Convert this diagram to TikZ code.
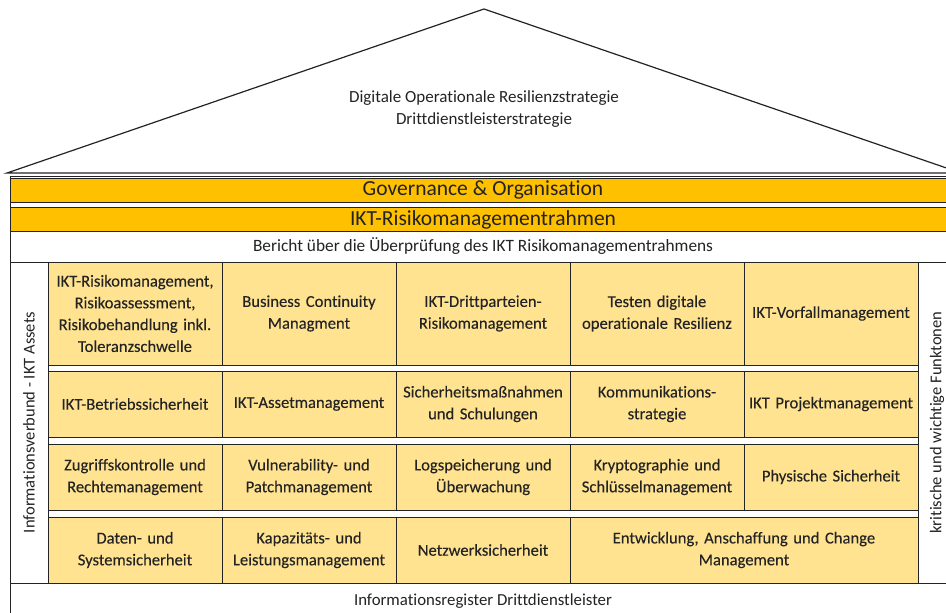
\documentclass[tikz,border=0pt]{standalone}
\usepackage{fontspec}
\setmainfont{Carlito}[Ligatures=NoCommon]
\newfontfamily\boxfont{Carlito}[Ligatures=NoCommon, FakeBold=0.15]
\usetikzlibrary{positioning}
\definecolor{barcolor}{RGB}{255,192,0}
\definecolor{cellcolor}{RGB}{255,227,145}
\definecolor{linecolor}{RGB}{35,35,35}

\begin{document}
\begin{tikzpicture}[%
    x=1pt, y=-1pt,              % pixel grid, y going down
    line width=0.9pt,           % thin frame lines
    ]
\tikzset{
  base/.style={draw=linecolor, align=center, inner sep=0pt, text=linecolor, font=\boxfont\fontsize{16.6}{21.8}\selectfont},
  cell/.style={base, fill=cellcolor, minimum width=174pt, text width=172pt},
  bar/.style={base, fill=barcolor, minimum width=946pt, minimum height=24pt, font=\fontsize{21.5}{24}\selectfont},
  band/.style={base, fill=white, minimum width=946pt},
  side/.style={base, fill=white, rotate=90, minimum width=321pt, minimum height=38pt, font=\fontsize{16.5}{20}\selectfont},
}
\useasboundingbox (0,0) rectangle (946,613);
\clip (0,0) rectangle (946,613);

% roof
\draw [linecolor, line width=1.2pt] (7,173) -- (484,9) -- (961,173) -- cycle;
\node [align=center, text=linecolor, font=\fontsize{17}{22}\selectfont] (roof) at (484,109)
  {Digitale Operationale Resilienzstrategie\\Drittdienstleisterstrategie};

% house
\draw [linecolor] (10,176) rectangle (956,630);
\node [bar] (gov) at (483,190) {Governance \& Organisation};
\node [bar] (ikt) at (483,219.5) {IKT-Risikomanagementrahmen};
\node [band, minimum height=31pt, font=\fontsize{17.3}{20}\selectfont] (report) at (483,246.5) {Bericht über die Überprüfung des IKT Risikomanagementrahmens};
\node [band, minimum height=36pt, font=\fontsize{16.8}{20}\selectfont] (register) at (483,601) {Informationsregister Drittdienstleister};

\node [side] (assets) at (29,422.5) {Informationsverbund - IKT Assets};
\node [side] (funcs) at (937,422.5) {kritische und wichtige Funktonen};

% row 1
\node [cell, minimum height=103pt] (c11) at (135,313.5) {IKT-Risikomanagement,\\Risikoassessment,\\Risikobehandlung inkl.\\Toleranzschwelle};
\node [cell, minimum height=103pt] (c12) at (309,313.5) {Business Continuity\\Managment};
\node [cell, minimum height=103pt] (c13) at (483,313.5) {IKT-Drittparteien-\\Risikomanagement};
\node [cell, minimum height=103pt] (c14) at (657,313.5) {Testen digitale\\operationale Resilienz};
\node [cell, minimum height=103pt] (c15) at (831,313.5) {IKT-Vorfallmanagement};

% row 2
\node [cell, minimum height=66pt] (c21) at (135,404) {IKT-Betriebssicherheit};
\node [cell, minimum height=66pt] (c22) at (309,404) {IKT-Assetmanagement};
\node [cell, minimum height=66pt] (c23) at (483,404) {Sicherheitsmaßnahmen\\und Schulungen};
\node [cell, minimum height=66pt] (c24) at (657,404) {Kommunikations-\\strategie};
\node [cell, minimum height=66pt] (c25) at (831,404) {IKT Projektmanagement};

% row 3
\node [cell, minimum height=66pt] (c31) at (135,477) {Zugriffskontrolle und\\Rechtemanagement};
\node [cell, minimum height=66pt] (c32) at (309,477) {Vulnerability- und\\Patchmanagement};
\node [cell, minimum height=66pt] (c33) at (483,477) {Logspeicherung und\\Überwachung};
\node [cell, minimum height=66pt] (c34) at (657,477) {Kryptographie und\\Schlüsselmanagement};
\node [cell, minimum height=66pt] (c35) at (831,477) {Physische Sicherheit};

% row 4
\node [cell, minimum height=66pt] (c41) at (135,550) {Daten- und\\Systemsicherheit};
\node [cell, minimum height=66pt] (c42) at (309,550) {Kapazitäts- und\\Leistungsmanagement};
\node [cell, minimum height=66pt] (c43) at (483,550) {Netzwerksicherheit};
\node [cell, minimum height=66pt, minimum width=348pt, text width=340pt] (c44) at (744,550) {Entwicklung, Anschaffung und Change\\Management};

\end{tikzpicture}
\end{document}
